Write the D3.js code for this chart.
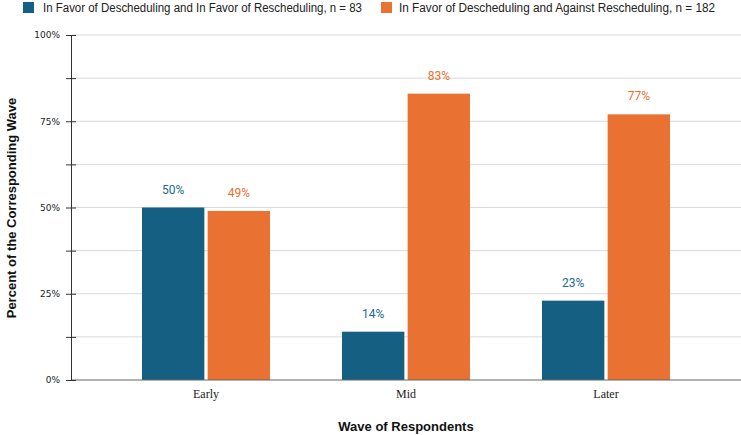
<!DOCTYPE html>
<html>
<head>
<meta charset="utf-8">
<script src="https://cdn.jsdelivr.net/npm/d3@7"></script>
<style>
  body { margin: 0; background: #fff; }
  svg { display: block; }
</style>
</head>
<body>
<svg id="chart"></svg>
<script>
var waves = ["Early", "Mid", "Later"];
var seriesNames = [
  "In Favor of Descheduling and In Favor of Rescheduling, n = 83",
  "In Favor of Descheduling and Against Rescheduling, n = 182"
];
var favorValues = [50, 14, 23];
var againstValues = [49, 83, 77];
var yTickLabels = [0, 25, 50, 75, 100];
var colors = ["#155f82", "#e97132"];
var labelColors = ["#1d6a91", "#e8702f"];

var width = 741, height = 435;
var margin = { left: 71, top: 35, right: 0, bottom: 55 };

var svg = d3.select("#chart").attr("width", width).attr("height", height);

var x0 = d3.scaleBand().domain(waves).range([106, 706]).padding(0);
var x1 = d3.scaleBand().domain([0, 1]).range([36, 164]).paddingInner(0.05);
var y = d3.scaleLinear().domain([0, 100]).range([height - margin.bottom, margin.top]);

// gridlines every 12.5%
var gridVals = d3.range(0, 100.01, 12.5);
svg.append("g").selectAll("line").data(gridVals.filter(function (d) { return d > 0; }))
  .enter().append("line")
  .attr("x1", margin.left).attr("x2", width)
  .attr("y1", function (d) { return y(d); }).attr("y2", function (d) { return y(d); })
  .attr("stroke", "#d9d9d9").attr("stroke-width", 1);

var data = waves.map(function (w, i) { return { wave: w, values: [favorValues[i], againstValues[i]] }; });

var groups = svg.append("g").selectAll("g").data(data).enter().append("g")
  .attr("transform", function (d) { return "translate(" + x0(d.wave) + ",0)"; });

groups.selectAll("rect").data(function (d) { return d.values.map(function (v, k) { return { k: k, v: v }; }); })
  .enter().append("rect")
  .attr("x", function (d) { return x1(d.k); })
  .attr("width", x1.bandwidth())
  .attr("y", function (d) { return y(d.v); })
  .attr("height", function (d) { return y(0) - y(d.v); })
  .attr("fill", function (d) { return colors[d.k]; });

groups.selectAll("text").data(function (d) { return d.values.map(function (v, k) { return { k: k, v: v }; }); })
  .enter().append("text")
  .attr("x", function (d) { return x1(d.k) + x1.bandwidth() / 2; })
  .attr("y", function (d) { return y(d.v) - 14; })
  .attr("text-anchor", "middle")
  .attr("font-family", "Roboto, 'Open Sans', sans-serif")
  .attr("font-size", "12px")
  .attr("fill", function (d) { return labelColors[d.k]; })
  .text(function (d) { return d.v + "%"; });

// x baseline
svg.append("line")
  .attr("x1", margin.left).attr("x2", width)
  .attr("y1", y(0)).attr("y2", y(0))
  .attr("stroke", "#666").attr("stroke-width", 1.2);

// y axis
var yAxisG = svg.append("g").attr("transform", "translate(" + margin.left + ",0)");
yAxisG.call(d3.axisLeft(y).tickValues(gridVals).tickSize(5)
  .tickFormat(function (d) { return d + "%"; }));
yAxisG.select(".domain").attr("stroke", "#333");
yAxisG.selectAll(".tick line").attr("x1", -5).attr("x2", 5).attr("stroke", "#333");
yAxisG.selectAll(".tick text")
  .filter(function (d) { return yTickLabels.indexOf(d) < 0; }).remove();
yAxisG.selectAll(".tick text")
  .attr("x", -11)
  .attr("font-family", "'DejaVu Sans', Verdana, sans-serif")
  .attr("font-size", "9px")
  .attr("fill", "#222");

// x category labels
svg.append("g").selectAll("text").data(waves).enter().append("text")
  .attr("x", function (d) { return x0(d) + x0.bandwidth() / 2; })
  .attr("y", y(0) + 18)
  .attr("text-anchor", "middle")
  .attr("font-family", "'Liberation Serif', 'Times New Roman', serif")
  .attr("font-size", "12px")
  .attr("fill", "#222")
  .text(function (d) { return d; });

// axis titles
svg.append("text")
  .attr("x", 406).attr("y", 431)
  .attr("text-anchor", "middle")
  .attr("font-family", "'Liberation Sans', Arial, sans-serif")
  .attr("font-weight", "bold").attr("font-size", "13px")
  .attr("fill", "#111")
  .text("Wave of Respondents");

svg.append("text")
  .attr("transform", "translate(16,208) rotate(-90)")
  .attr("text-anchor", "middle")
  .attr("font-family", "'Liberation Sans', Arial, sans-serif")
  .attr("font-weight", "bold").attr("font-size", "13px")
  .attr("fill", "#111")
  .text("Percent of the Corresponding Wave");

// legend
var legendX = [23, 381];
var legendLen = [319, 316];
var legend = svg.append("g").selectAll("g").data(seriesNames).enter().append("g")
  .attr("transform", function (d, i) { return "translate(" + legendX[i] + ",2)"; });
legend.append("rect").attr("width", 11).attr("height", 11)
  .attr("fill", function (d, i) { return colors[i]; });
legend.append("text").attr("x", function (d, i) { return i === 0 ? 20 : 18; }).attr("y", 9.5)
  .attr("font-family", "'Liberation Sans', Arial, sans-serif")
  .attr("font-size", "12px")
  .attr("textLength", function (d, i) { return legendLen[i]; })
  .attr("lengthAdjust", "spacingAndGlyphs")
  .attr("fill", "#222")
  .text(function (d) { return d; });
</script>
</body>
</html>
